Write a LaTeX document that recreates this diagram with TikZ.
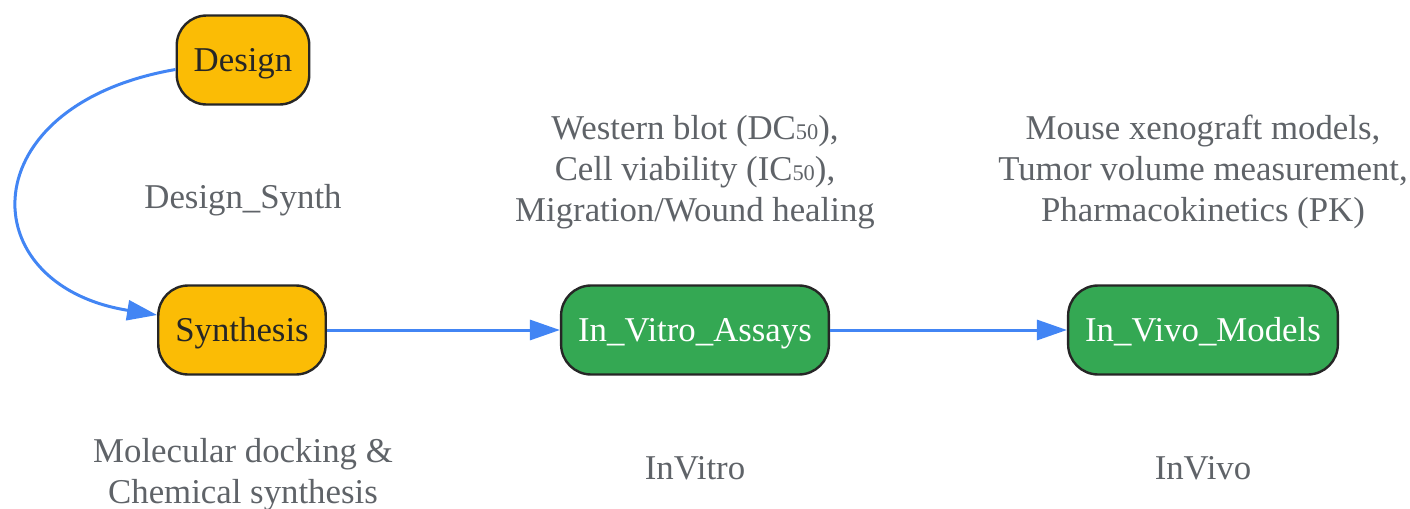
\documentclass[tikz,border=0pt]{standalone}
\usepackage{fontspec}
\setmainfont{Liberation Serif}
\usetikzlibrary{arrows.meta}
\definecolor{gyellow}{HTML}{FBBC05}
\definecolor{ggreen}{HTML}{34A853}
\definecolor{gblue}{HTML}{4285F4}
\definecolor{ggray}{HTML}{5F6368}
\newcommand{\smallsub}[1]{{\fontsize{11.2}{11.2}\selectfont #1}}
\begin{document}
\begin{tikzpicture}[x=0.5pt,y=-0.5pt,
  font=\fontsize{17.4}{20.5}\selectfont,
  stage/.style={rectangle,rounded corners=15pt,draw=black!85,line width=1.2pt,
    minimum height=44.5pt,inner xsep=8.5pt,text height=11.2pt,text depth=0pt},
  lab/.style={text=ggray,align=center},
  flow/.style={draw=gblue,line width=1.5pt,-{Triangle[length=15pt,width=10pt]}}]
\useasboundingbox (0,0) rectangle (1410,509);
% x, y in pixels
\node[stage,fill=gyellow,text=black!85] (design) at (243,60) {Design};
\node[stage,fill=gyellow,text=black!85] (synth) at (242,330) {Synthesis};
\node[stage,fill=ggreen,text=white] (vitro) at (695,330) {In\_Vitro\_Assays};
\node[stage,fill=ggreen,text=white] (vivo) at (1203,330) {In\_Vivo\_Models};
% labels
\node[lab] (dslab) at (243,200) {Design\_Synth};
\node[lab] (vitrotxt) at (695,172) {Western blot (DC\smallsub{50}),\\Cell viability (IC\smallsub{50}),\\Migration/Wound healing};
\node[lab] (vivotxt) at (1203,172) {Mouse xenograft models,\\Tumor volume measurement,\\Pharmacokinetics (PK)};
\node[lab] (synthtxt) at (243,475) {Molecular docking \&\\Chemical synthesis};
\node[lab] (vitrolab) at (695,468) {InVitro};
\node[lab] (vivolab) at (1203,468) {InVivo};
% edges
\draw[flow] (design.188) .. controls (-30,105) and (-30,285) .. (synth.170);
\draw[flow] (synth) -- (vitro);
\draw[flow] (vitro) -- (vivo);
\end{tikzpicture}
\end{document}
